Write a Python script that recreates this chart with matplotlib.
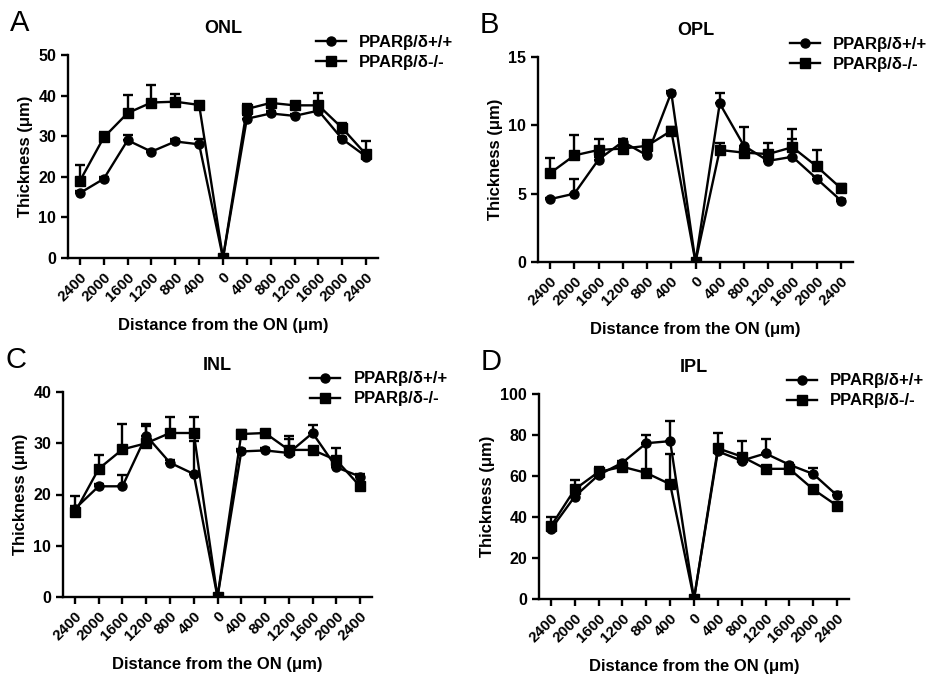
import matplotlib
matplotlib.use("Agg")
import matplotlib.pyplot as plt
from matplotlib.lines import Line2D
import numpy as np

plt.rcParams['font.family'] = ['Liberation Sans', 'DejaVu Sans']

distance_labels = ["2400", "2000", "1600", "1200", "800", "400", "0",
                   "400", "800", "1200", "1600", "2000", "2400"]

# ONL
onl_wt = [16, 19.5, 29, 26.2, 28.7, 28, 0, 34.3, 35.6, 35, 36.3, 29.3, 25]
onl_wt_err = [0.4, 0.5, 1.2, 0.4, 0.5, 1.2, 0, 0.8, 0.6, 0.5, 0.6, 0.6, 0.5]
onl_ko = [19, 29.7, 35.7, 38.3, 38.5, 37.7, 0, 36.7, 38.2, 37.6, 37.6, 32, 25.5]
onl_ko_err = [3.8, 1.3, 4.5, 4.2, 2.0, 0.5, 0, 1.3, 0.8, 0.7, 3.1, 1.3, 3.2]

# OPL
opl_wt = [4.6, 5.0, 7.5, 8.8, 7.8, 12.4, 0, 11.6, 8.5, 7.4, 7.7, 6.1, 4.5]
opl_wt_err = [0.1, 1.1, 0.2, 0.2, 0.2, 0.1, 0, 0.8, 1.4, 0.2, 1.3, 0.2, 0.1]
opl_ko = [6.5, 7.8, 8.2, 8.3, 8.5, 9.6, 0, 8.2, 8.0, 7.9, 8.4, 7.0, 5.4]
opl_ko_err = [1.1, 1.5, 0.8, 0.6, 0.4, 0.3, 0, 0.5, 0.4, 0.8, 1.3, 1.2, 0.3]

# INL
inl_wt = [17.2, 21.6, 21.6, 31.5, 26.2, 24, 0, 28.4, 28.6, 28.1, 32, 25.3, 23.5]
inl_wt_err = [0.5, 0.5, 2.2, 2.3, 0.5, 6.5, 0, 0.5, 0.4, 2.7, 1.5, 0.5, 0.5]
inl_ko = [16.5, 25, 28.8, 30, 32, 32, 0, 31.8, 32, 28.7, 28.7, 26.7, 21.6]
inl_ko_err = [3.3, 2.8, 4.9, 3.3, 3.2, 3.1, 0, 0.7, 0.5, 2.8, 0.3, 2.3, 0.5]

# IPL
ipl_wt = [34, 50, 60.5, 66.5, 76, 77, 0, 72, 67.5, 71, 65.5, 61, 50.5]
ipl_wt_err = [1, 2, 2, 1, 4, 10, 0, 2, 1.5, 7, 1, 3, 1.5]
ipl_ko = [35.5, 53.5, 62, 64.5, 61.5, 56, 0, 73.5, 69.5, 63.5, 63.5, 53.5, 45.5]
ipl_ko_err = [4.5, 4.5, 2.5, 1, 14, 14.5, 0, 7.5, 7.5, 1, 1, 1, 1]

W, H = 935, 679
fig = plt.figure(figsize=(W / 100, H / 100), dpi=100)

def add_ax(left, right, top, bottom):
    return fig.add_axes([left / W, 1 - bottom / H, (right - left) / W, (bottom - top) / H])

panels = [
    ("A", "ONL", (68, 378, 55, 258), onl_wt, onl_wt_err, onl_ko, onl_ko_err, 50, 10),
    ("B", "OPL", (538, 853, 57, 262), opl_wt, opl_wt_err, opl_ko, opl_ko_err, 15, 5),
    ("C", "INL", (63, 372, 392, 597), inl_wt, inl_wt_err, inl_ko, inl_ko_err, 40, 10),
    ("D", "IPL", (539, 849, 394, 599), ipl_wt, ipl_wt_err, ipl_ko, ipl_ko_err, 100, 20),
]

x = np.arange(len(distance_labels))

for letter, title, box, wt, wt_err, ko, ko_err, ymax, ystep in panels:
    ax = add_ax(*box)
    zeros = np.zeros(len(x))
    ax.errorbar(x, ko, yerr=[zeros, ko_err], color='black', lw=1.7, marker='s',
                ms=7, capsize=3.5, capthick=1.7, elinewidth=1.7, zorder=3)
    ax.errorbar(x, wt, yerr=[zeros, wt_err], color='black', lw=1.7, marker='o',
                ms=6.5, capsize=3.5, capthick=1.7, elinewidth=1.7, zorder=4)
    ax.set_xlim(-0.5, 12.5)
    ax.set_ylim(0, ymax)
    ax.set_yticks(np.arange(0, ymax + 0.1, ystep))
    ax.set_xticks(x)
    ax.set_xticklabels(distance_labels, rotation=45, ha='right',
                       rotation_mode='anchor', fontsize=11, fontweight='bold')
    for lbl in ax.get_yticklabels():
        lbl.set_fontweight('bold')
        lbl.set_fontsize(11.5)
    ax.spines['top'].set_visible(False)
    ax.spines['right'].set_visible(False)
    for s in ['left', 'bottom']:
        ax.spines[s].set_linewidth(1.7)
    ax.tick_params(direction='out', width=1.7, length=5)
    ax.set_ylabel("Thickness (μm)", fontsize=12, fontweight='bold', labelpad=4)
    ax.set_xlabel("Distance from the ON (μm)", fontsize=12, fontweight='bold', labelpad=10)
    ax.set_title(title, fontsize=13, fontweight='bold', pad=16)
    handles = [
        Line2D([], [], color='black', lw=1.7, marker='o', ms=6.5),
        Line2D([], [], color='black', lw=1.7, marker='s', ms=7),
    ]
    ax.legend(handles, ["PPARβ/δ+/+", "PPARβ/δ-/-"], loc='upper left',
              bbox_to_anchor=(0.8, 1.10), frameon=False,
              prop={'size': 12, 'weight': 'bold'}, handlelength=1.8,
              handletextpad=0.8, labelspacing=0.3, borderpad=0,
              borderaxespad=0)
    fig.text(box[0] / W - 0.062, 1 - (box[2] - 32) / H, letter, fontsize=21,
             ha='left', va='center')

fig.savefig("out.png", dpi=100)
